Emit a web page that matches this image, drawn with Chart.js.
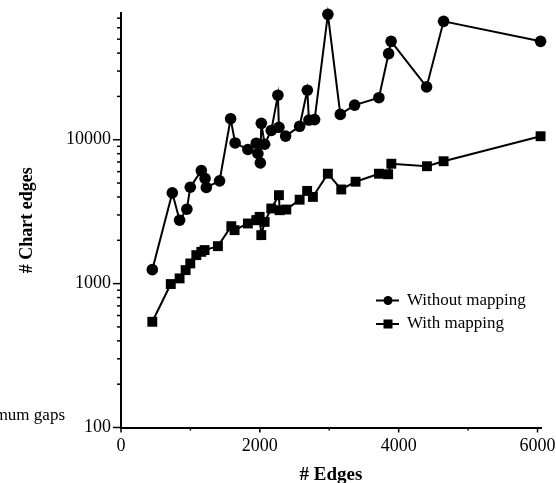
<!DOCTYPE html>
<html><head><meta charset="utf-8">
<script src="https://cdn.jsdelivr.net/npm/chart.js@4.4.0/dist/chart.umd.min.js"></script>
<style>
html,body{margin:0;padding:0;background:#fff;overflow:hidden;}
#wrap{position:relative;width:556px;height:483px;}
#side{position:absolute;right:491px;top:405px;font:17px "Liberation Serif";white-space:nowrap;color:#000;}
</style></head><body>
<div id="wrap"><canvas id="c" width="556" height="483"></canvas><div id="side">minimum gaps</div></div>
<script>
const edgesWithout = [451, 739, 844, 949, 998, 1157, 1211, 1229, 1420, 1579, 1644, 1828, 1949, 1972, 2007, 2021, 2069, 2165, 2260, 2275, 2371, 2573, 2684, 2707, 2789, 2980, 3159, 3365, 3715, 3855, 3891, 4402, 4647, 6044];
const chartEdgesWithout = [1250, 4270, 2760, 3290, 4680, 6100, 5380, 4660, 5180, 14000, 9500, 8550, 9460, 8020, 6900, 13000, 9300, 11600, 20400, 12200, 10600, 12400, 22100, 13700, 13800, 74400, 15000, 17400, 19600, 39700, 48300, 23300, 66500, 48300];
const edgesWith = [451, 717, 844, 931, 998, 1085, 1157, 1204, 1396, 1589, 1636, 1828, 1949, 1972, 1997, 2021, 2069, 2165, 2275, 2285, 2381, 2573, 2681, 2764, 2980, 3173, 3379, 3715, 3848, 3894, 4407, 4647, 6044];
const chartEdgesWith = [543, 993, 1087, 1241, 1381, 1577, 1663, 1710, 1821, 2507, 2353, 2618, 2761, 2761, 2911, 2173, 2685, 3326, 4117, 3238, 3273, 3831, 4409, 4005, 5806, 4511, 5108, 5806, 5755, 6812, 6545, 7090, 10575];
const xTickValues = [0, 1000, 2000, 3000, 4000, 5000, 6000];
const xTickLabels = [0, 2000, 4000, 6000];
const yTickLabels = [100, 1000, 10000];
const seriesNames = ['Without mapping', 'With mapping'];

const serif = '"Liberation Serif", "Times New Roman", serif';

const tickPlugin = {
  id: 'tickMarks',
  afterDraw(chart) {
    const ctx = chart.ctx, ys = chart.scales.y, xs = chart.scales.x;
    ctx.save();
    ctx.strokeStyle = '#000';
    ctx.lineWidth = 1.5;
    ys.ticks.forEach(t => {
      const v = t.value;
      const p = Math.pow(10, Math.floor(Math.log10(v) + 1e-9));
      const m = v / p;
      if (Math.abs(m - Math.round(m)) > 1e-6) return;
      const major = Math.abs(m - 1) < 1e-6;
      const py = ys.getPixelForValue(v);
      const len = major ? 8 : 4;
      ctx.beginPath(); ctx.moveTo(ys.right - len, py); ctx.lineTo(ys.right, py); ctx.stroke();
    });
    xs.ticks.forEach(t => {
      const px = xs.getPixelForValue(t.value);
      const len = t.value % 2000 === 0 ? 5 : 3;
      ctx.beginPath(); ctx.moveTo(px, xs.top); ctx.lineTo(px, xs.top + len); ctx.stroke();
    });
    ctx.restore();
  }
};

const legendPlugin = {
  id: 'innerLegend',
  afterDraw(chart) {
    const ctx = chart.ctx, a = chart.chartArea;
    const rows = [a.top + 287.5, a.top + 311];
    ctx.save();
    chart.data.datasets.forEach((ds, i) => {
      const y = rows[i];
      ctx.strokeStyle = '#000'; ctx.fillStyle = '#000'; ctx.lineWidth = 2;
      ctx.beginPath(); ctx.moveTo(a.left + 255, y); ctx.lineTo(a.left + 278, y); ctx.stroke();
      const mx = a.left + 267;
      if (ds.pointStyle === 'circle') {
        ctx.beginPath(); ctx.arc(mx, y, 4.5, 0, Math.PI * 2); ctx.fill();
      } else {
        ctx.fillRect(mx - 4.5, y - 4.5, 9, 9);
      }
      ctx.font = '17px ' + serif;
      ctx.textBaseline = 'middle'; ctx.textAlign = 'left';
      ctx.fillText(ds.label, a.left + 286, y);
    });
    ctx.restore();
  }
};

new Chart(document.getElementById('c'), {
  type: 'line',
  data: {
    datasets: [
      {
        label: seriesNames[0],
        data: edgesWithout.map((x, i) => ({x: x, y: chartEdgesWithout[i]})),
        borderColor: '#000', backgroundColor: '#000', borderWidth: 2,
        pointStyle: 'circle', pointRadius: 5.8, pointBorderWidth: 0,
        pointBackgroundColor: '#000', tension: 0, clip: false
      },
      {
        label: seriesNames[1],
        data: edgesWith.map((x, i) => ({x: x, y: chartEdgesWith[i]})),
        borderColor: '#000', backgroundColor: '#000', borderWidth: 2,
        pointStyle: 'rect', pointRadius: 7, pointBorderWidth: 0,
        pointBackgroundColor: '#000', tension: 0, clip: false
      }
    ]
  },
  options: {
    responsive: false, animation: false, devicePixelRatio: 1,
    layout: {padding: {top: 13, right: 15, left: 0, bottom: 0}},
    plugins: {legend: {display: false}, tooltip: {enabled: false}},
    scales: {
      x: {
        type: 'linear', min: 0, max: 6050,
        grid: {display: false},
        border: {display: true, color: '#000', width: 2},
        afterBuildTicks: s => { s.ticks = xTickValues.map(v => ({value: v})); },
        ticks: {
          autoSkip: false, maxRotation: 0, color: '#000', padding: 0,
          font: {family: serif, size: 18},
          callback: v => xTickLabels.includes(v) ? String(v) : ''
        },
        title: {display: true, text: '# Edges', color: '#000',
          font: {family: serif, size: 19, weight: 'bold', lineHeight: 0.8},
          padding: {top: 0, bottom: 0}},
        afterFit: s => { s.height = 55.5; s.paddingLeft = 0; s.paddingRight = 0; }
      },
      y: {
        type: 'logarithmic', min: 100, max: 76000,
        grid: {display: false},
        border: {display: true, color: '#000', width: 2},
        ticks: {
          autoSkip: false, color: '#000', padding: 2,
          font: {family: serif, size: 18},
          callback: v => yTickLabels.includes(v) ? String(v) : ''
        },
        title: {display: true, text: '# Chart edges', color: '#000',
          font: {family: serif, size: 18, weight: 'bold'},
          padding: {top: 17, bottom: 0}},
        afterFit: s => { s.width = 121; s.paddingTop = 0; s.paddingBottom = 0; }
      }
    }
  },
  plugins: [tickPlugin, legendPlugin]
});
</script>
</body></html>
